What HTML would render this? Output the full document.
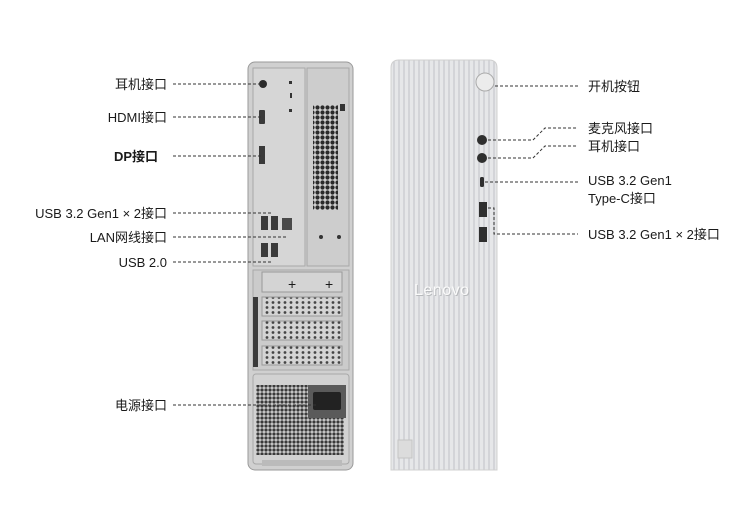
<!DOCTYPE html>
<html><head><meta charset="utf-8"><style>
html,body{margin:0;padding:0;background:#fff;}
svg{display:block;}
text{font-family:"Liberation Sans","Noto Sans CJK SC",sans-serif;font-size:13px;fill:#1a1a1a;}
</style></head><body>
<svg width="747" height="511" viewBox="0 0 747 511" xmlns="http://www.w3.org/2000/svg">
<defs>
<pattern id="hex" width="5" height="5" patternUnits="userSpaceOnUse">
<rect width="5" height="5" fill="#cfcfcf"/><circle cx="2.5" cy="2.5" r="2.1" fill="#2a2a2a"/>
</pattern>
<pattern id="hex2" width="4" height="4" patternUnits="userSpaceOnUse">
<rect width="4" height="4" fill="#d0d0d0"/><circle cx="2" cy="2" r="1.6" fill="#3a3a3a"/>
</pattern>
<pattern id="slot" width="6" height="5" patternUnits="userSpaceOnUse">
<rect width="6" height="5" fill="#d4d4d4"/><circle cx="3" cy="2.5" r="1.4" fill="#444"/>
</pattern>
<pattern id="stripes" width="5" height="10" patternUnits="userSpaceOnUse">
<rect width="5" height="10" fill="#e6e7e9"/><rect x="3.3" width="1.4" height="10" fill="#cbcdd0"/>
</pattern>
</defs>

<!-- Back panel -->
<rect x="248" y="62" width="105" height="408" rx="7" fill="#d0d0d0" stroke="#9a9a9a"/>
<rect x="253" y="68" width="52" height="198" fill="#d6d6d6" stroke="#a8a8a8"/>
<rect x="307" y="68" width="42" height="198" fill="#cdcdcd" stroke="#a8a8a8"/>
<rect x="313" y="105" width="25" height="105" fill="url(#hex)"/>
<rect x="340" y="104" width="5" height="7" fill="#333"/>
<circle cx="263" cy="84" r="4" fill="#2b2b2b"/>
<rect x="259" y="110" width="6" height="14" rx="1" fill="#3a3a3a"/>
<rect x="259" y="146" width="6" height="18" fill="#3a3a3a"/>
<rect x="289" y="81" width="3" height="3" fill="#333"/><rect x="290" y="93" width="2" height="5" fill="#333"/><rect x="289" y="109" width="3" height="3" fill="#333"/>
<rect x="261" y="216" width="7" height="14" fill="#3a3a3a"/><rect x="271" y="216" width="7" height="14" fill="#3a3a3a"/>
<rect x="282" y="218" width="10" height="12" fill="#4a4a4a"/>
<rect x="261" y="243" width="7" height="14" fill="#3a3a3a"/><rect x="271" y="243" width="7" height="14" fill="#3a3a3a"/>
<circle cx="321" cy="237" r="2" fill="#333"/><circle cx="339" cy="237" r="2" fill="#333"/>
<!-- slots -->
<rect x="253" y="270" width="96" height="100" fill="#cbcbcb" stroke="#a8a8a8"/>
<rect x="262" y="272" width="80" height="20" fill="#d4d4d4" stroke="#999"/>
<text x="288" y="289" style="font-size:14px">+</text><text x="325" y="289" style="font-size:14px">+</text>
<rect x="262" y="297" width="80" height="19" fill="url(#slot)" stroke="#999"/>
<rect x="262" y="321" width="80" height="19" fill="url(#slot)" stroke="#999"/>
<rect x="262" y="346" width="80" height="19" fill="url(#slot)" stroke="#999"/>
<rect x="253" y="297" width="5" height="70" fill="#3a3a3a"/>
<!-- PSU -->
<rect x="253" y="374" width="96" height="90" rx="3" fill="#d2d2d2" stroke="#a8a8a8"/>
<rect x="256" y="385" width="88" height="70" fill="url(#hex2)"/>
<rect x="308" y="385" width="38" height="33" fill="#5a5a5a"/>
<rect x="313" y="392" width="28" height="18" rx="2" fill="#222"/>
<rect x="262" y="460" width="80" height="6" fill="#bbb"/>

<!-- Front panel -->
<path d="M391 470 L391 68 Q391 60 399 60 L489 60 Q497 60 497 68 L497 470 Z" fill="url(#stripes)" stroke="#d0d0d0"/>
<text x="415" y="296" style="font-size:16px;fill:#b8babd;letter-spacing:0.5px">Lenovo</text>
<text x="414" y="295" style="font-size:16px;fill:#fbfbfb;letter-spacing:0.5px">Lenovo</text>
<circle cx="485" cy="82" r="9" fill="#ececec" stroke="#aaa"/>
<circle cx="482" cy="140" r="5" fill="#2f2f2f"/>
<circle cx="482" cy="158" r="5" fill="#2f2f2f"/>
<rect x="480" y="177" width="4" height="10" rx="1.5" fill="#2f2f2f"/>
<rect x="479" y="202" width="8" height="15" fill="#2f2f2f"/>
<rect x="479" y="227" width="8" height="15" fill="#2f2f2f"/>
<rect x="398" y="440" width="14" height="18" fill="#dcdcdc" stroke="#c4c4c4"/>

<!-- connectors -->
<g stroke="#333" stroke-width="1" stroke-dasharray="3,2" fill="none">
<line x1="173" y1="84" x2="262" y2="84"/>
<line x1="173" y1="117" x2="262" y2="117"/>
<line x1="173" y1="156" x2="262" y2="156"/>
<line x1="173" y1="213" x2="272" y2="213"/>
<line x1="173" y1="237" x2="288" y2="237"/>
<line x1="173" y1="262" x2="272" y2="262"/>
<line x1="173" y1="405" x2="318" y2="405"/>
<line x1="495" y1="86" x2="578" y2="86"/>
<polyline points="488,140 533,140 545,128 578,128"/>
<polyline points="488,158 533,158 545,146 578,146"/>
<line x1="485" y1="182" x2="578" y2="182"/>
<polyline points="488,208 494,208 494,234 578,234"/>
</g>

<!-- labels -->
<g text-anchor="end">
<text x="167" y="89">耳机接口</text>
<text x="167" y="122">HDMI接口</text>
<text x="158" y="161" style="font-weight:bold">DP接口</text>
<text x="167" y="218">USB 3.2 Gen1 × 2接口</text>
<text x="167" y="242">LAN网线接口</text>
<text x="167" y="267">USB 2.0</text>
<text x="167" y="410">电源接口</text>
</g>
<text x="588" y="91">开机按钮</text>
<text x="588" y="133">麦克风接口</text>
<text x="588" y="151">耳机接口</text>
<text x="588" y="185">USB 3.2 Gen1</text>
<text x="588" y="203">Type-C接口</text>
<text x="588" y="239">USB 3.2 Gen1 × 2接口</text>
</svg>
</body></html>
